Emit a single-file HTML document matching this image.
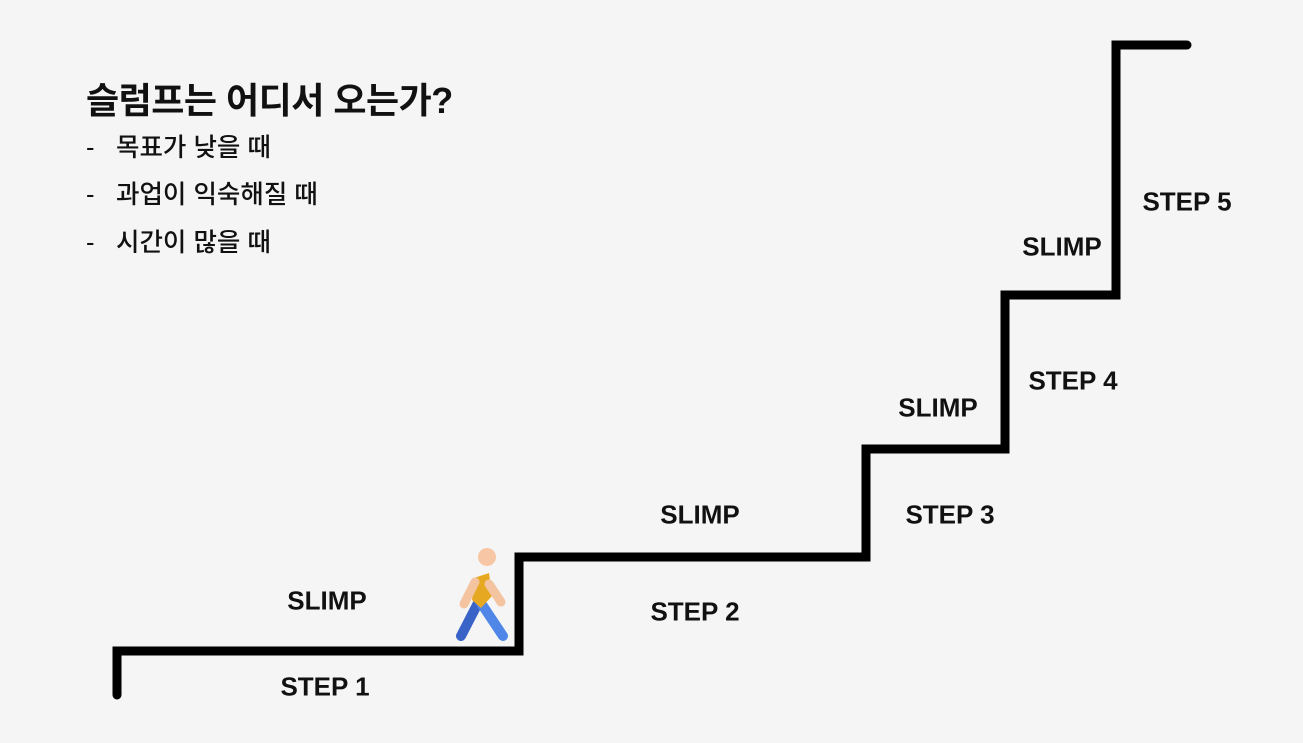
<!DOCTYPE html>
<html><head><meta charset="utf-8"><style>
body{margin:0;width:1303px;height:743px;background:#f5f5f5;overflow:hidden;position:relative;font-family:"Liberation Sans","Noto Sans CJK KR",sans-serif;color:#111}
.t{position:absolute;font-weight:bold;font-size:36px;left:86px;top:72px;letter-spacing:-0.5px;white-space:nowrap}
.i{position:absolute;font-size:25.5px;left:86px;white-space:nowrap;font-weight:500}
.i span{display:inline-block;width:30px}
.l{position:absolute;font-weight:bold;font-size:26px;transform:translate(-50%,-50%);white-space:nowrap;letter-spacing:0}
</style></head><body>
<div class="t">슬럼프는 어디서 오는가?</div>
<div class="i" style="top:127px"><span>-</span>목표가 낮을 때</div>
<div class="i" style="top:174px"><span>-</span>과업이 익숙해질 때</div>
<div class="i" style="top:222px"><span>-</span>시간이 많을 때</div>
<svg width="1303" height="743" style="position:absolute;left:0;top:0">
<polyline points="117,695 117,651 519,651 519,557 866,557 866,449 1005,449 1005,295 1116,295 1116,45 1187,45" fill="none" stroke="#000" stroke-width="9" stroke-linecap="round" stroke-linejoin="miter"/>
<circle cx="487" cy="557" r="9" fill="#f7c7a5"/>
<line x1="478" y1="603" x2="461" y2="636" stroke="#3a63c8" stroke-width="10" stroke-linecap="round"/>
<line x1="481" y1="603" x2="503" y2="636" stroke="#4f86e8" stroke-width="10" stroke-linecap="round"/>
<path d="M474 578 L489 573 L492 596 L481 608 L472 600Z" fill="#e6a820"/>
<line x1="475" y1="582" x2="464" y2="604" stroke="#f4c3a0" stroke-width="9" stroke-linecap="round"/>
<line x1="489" y1="584" x2="501" y2="602" stroke="#f4c3a0" stroke-width="9" stroke-linecap="round"/>
</svg>
<div class="l" style="left:327px;top:601px">SLIMP</div>
<div class="l" style="left:325px;top:687px">STEP 1</div>
<div class="l" style="left:700px;top:515px">SLIMP</div>
<div class="l" style="left:695px;top:612px">STEP 2</div>
<div class="l" style="left:938px;top:408px">SLIMP</div>
<div class="l" style="left:950px;top:515px">STEP 3</div>
<div class="l" style="left:1062px;top:247px">SLIMP</div>
<div class="l" style="left:1073px;top:381px">STEP 4</div>
<div class="l" style="left:1187px;top:202px">STEP 5</div>
</body></html>
